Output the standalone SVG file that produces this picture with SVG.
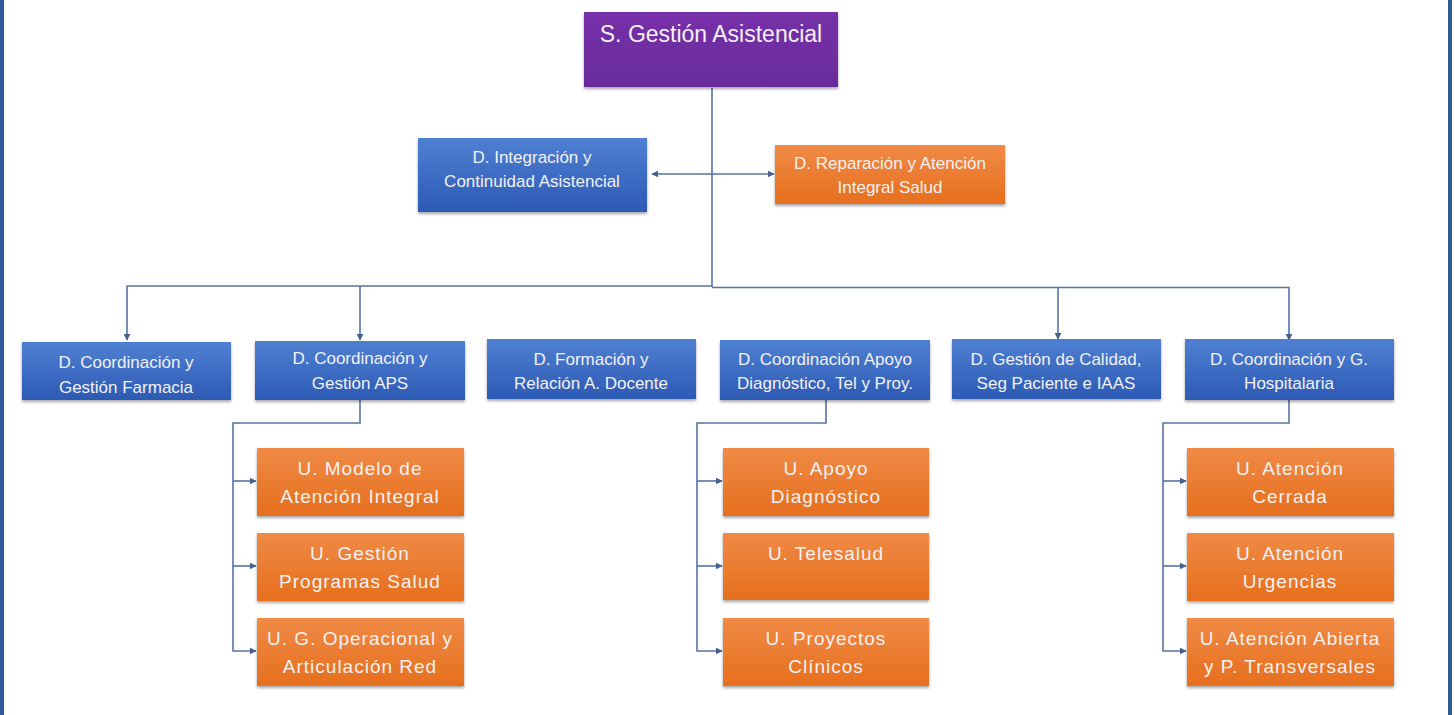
<svg xmlns="http://www.w3.org/2000/svg" width="1455" height="715" viewBox="0 0 1455 715">
<defs>
<linearGradient id="gBlue" x1="0" y1="0" x2="0" y2="1">
<stop offset="0" stop-color="#4f80d2"/>
<stop offset="1" stop-color="#2c5ab4"/>
</linearGradient>
<linearGradient id="gOrange" x1="0" y1="0" x2="0" y2="1">
<stop offset="0" stop-color="#f08a45"/>
<stop offset="1" stop-color="#e66f1e"/>
</linearGradient>
<linearGradient id="gPurple" x1="0" y1="0" x2="0" y2="1">
<stop offset="0" stop-color="#7630a8"/>
<stop offset="1" stop-color="#6a2c9e"/>
</linearGradient>
<filter id="sh" x="-5%" y="-10%" width="110%" height="130%">
<feDropShadow dx="0" dy="2" stdDeviation="1.5" flood-color="#000" flood-opacity="0.35"/>
</filter>
<marker id="arr" viewBox="0 0 10 10" refX="9" refY="5" markerWidth="7" markerHeight="7" markerUnits="userSpaceOnUse" orient="auto">
<path d="M0,0 L10,5 L0,10 z" fill="#44618f"/>
</marker>
</defs>
<style>
.blue{fill:url(#gBlue);filter:url(#sh)}
.orange{fill:url(#gOrange);filter:url(#sh)}
.purple{fill:url(#gPurple);filter:url(#sh)}
text{font-family:"Liberation Sans",Arial,sans-serif;fill:#f3f1f3;text-anchor:middle}
.t1{font-size:23px}
.t2{font-size:17px}
.t3{font-size:19px;letter-spacing:1px}
.c{fill:none;stroke:#5873a3;stroke-width:1.6}
.frame{fill:#2d5c96}
</style>
<rect class="frame" x="0" y="0" width="4" height="715"/>
<rect class="frame" x="1448" y="0" width="4" height="715"/>
<g id="connectors">
<path class="c" d="M712,88 V287"/>
<path class="c" d="M712,174 H652" marker-end="url(#arr)"/>
<path class="c" d="M712,174 H774" marker-end="url(#arr)"/>
<path class="c" d="M712,286 H127 V340" marker-end="url(#arr)"/>
<path class="c" d="M360,286 V340" marker-end="url(#arr)"/>
<path class="c" d="M712,287.5 H1289 V340" marker-end="url(#arr)"/>
<path class="c" d="M1058,287.5 V339" marker-end="url(#arr)"/>
<path class="c" d="M360,400 V423 H233 V651 H256" marker-end="url(#arr)"/>
<path class="c" d="M233,481 H256" marker-end="url(#arr)"/>
<path class="c" d="M233,566 H256" marker-end="url(#arr)"/>
<path class="c" d="M826,400 V423 H697 V651 H722" marker-end="url(#arr)"/>
<path class="c" d="M697,481 H722" marker-end="url(#arr)"/>
<path class="c" d="M697,566 H722" marker-end="url(#arr)"/>
<path class="c" d="M1289,400 V423 H1163 V651 H1186" marker-end="url(#arr)"/>
<path class="c" d="M1163,481 H1186" marker-end="url(#arr)"/>
<path class="c" d="M1163,566 H1186" marker-end="url(#arr)"/>
</g>
<g id="n-sga">
<rect class="purple" x="584" y="12" width="254" height="75"/>
<text class="t1" x="711" y="42">S. Gestión Asistencial</text>
</g>
<g id="n-integracion">
<rect class="blue" x="418" y="138" width="229" height="74"/>
<text class="t2" x="532" y="163">D. Integración y</text>
<text class="t2" x="532" y="187">Continuidad Asistencial</text>
</g>
<g id="n-reparacion">
<rect class="orange" x="775" y="145" width="230" height="59"/>
<text class="t2" x="890" y="169">D. Reparación y Atención</text>
<text class="t2" x="890" y="193">Integral Salud</text>
</g>
<g id="n-farmacia">
<rect class="blue" x="22" y="342" width="209" height="58"/>
<text class="t2" x="126" y="368">D. Coordinación y</text>
<text class="t2" x="126" y="393">Gestión Farmacia</text>
</g>
<g id="n-aps">
<rect class="blue" x="255" y="341" width="210" height="59"/>
<text class="t2" x="360" y="364">D. Coordinación y</text>
<text class="t2" x="360" y="389">Gestión APS</text>
</g>
<g id="n-formacion">
<rect class="blue" x="487" y="339" width="209" height="60"/>
<text class="t2" x="591" y="365">D. Formación y</text>
<text class="t2" x="591" y="389">Relación A. Docente</text>
</g>
<g id="n-apoyo">
<rect class="blue" x="720" y="340" width="210" height="60"/>
<text class="t2" x="825" y="365">D. Coordinación Apoyo</text>
<text class="t2" x="825" y="389">Diagnóstico, Tel y Proy.</text>
</g>
<g id="n-calidad">
<rect class="blue" x="952" y="339" width="209" height="60"/>
<text class="t2" x="1056" y="365">D. Gestión de Calidad,</text>
<text class="t2" x="1056" y="389">Seg Paciente e IAAS</text>
</g>
<g id="n-hospitalaria">
<rect class="blue" x="1185" y="339" width="209" height="61"/>
<text class="t2" x="1289" y="365">D. Coordinación y G.</text>
<text class="t2" x="1289" y="389">Hospitalaria</text>
</g>
<g id="u-modelo">
<rect class="orange" x="257" y="448" width="207" height="68"/>
<text class="t3" x="360" y="475">U. Modelo de</text>
<text class="t3" x="360" y="503">Atención Integral</text>
</g>
<g id="u-programas">
<rect class="orange" x="257" y="533" width="207" height="68"/>
<text class="t3" x="360" y="560">U. Gestión</text>
<text class="t3" x="360" y="588">Programas Salud</text>
</g>
<g id="u-operacional">
<rect class="orange" x="257" y="618" width="207" height="68"/>
<text class="t3" x="360" y="645">U. G. Operacional y</text>
<text class="t3" x="360" y="673">Articulación Red</text>
</g>
<g id="u-diagnostico">
<rect class="orange" x="723" y="448" width="206" height="68"/>
<text class="t3" x="826" y="475">U. Apoyo</text>
<text class="t3" x="826" y="503">Diagnóstico</text>
</g>
<g id="u-telesalud">
<rect class="orange" x="723" y="533" width="206" height="67"/>
<text class="t3" x="826" y="560">U. Telesalud</text>
</g>
<g id="u-proyectos">
<rect class="orange" x="723" y="618" width="206" height="68"/>
<text class="t3" x="826" y="645">U. Proyectos</text>
<text class="t3" x="826" y="673">Clínicos</text>
</g>
<g id="u-cerrada">
<rect class="orange" x="1187" y="448" width="207" height="68"/>
<text class="t3" x="1290" y="475">U. Atención</text>
<text class="t3" x="1290" y="503">Cerrada</text>
</g>
<g id="u-urgencias">
<rect class="orange" x="1187" y="533" width="207" height="68"/>
<text class="t3" x="1290" y="560">U. Atención</text>
<text class="t3" x="1290" y="588">Urgencias</text>
</g>
<g id="u-abierta">
<rect class="orange" x="1187" y="618" width="207" height="68"/>
<text class="t3" x="1290" y="645">U. Atención  Abierta</text>
<text class="t3" x="1290" y="673">y P. Transversales</text>
</g>
</svg>
